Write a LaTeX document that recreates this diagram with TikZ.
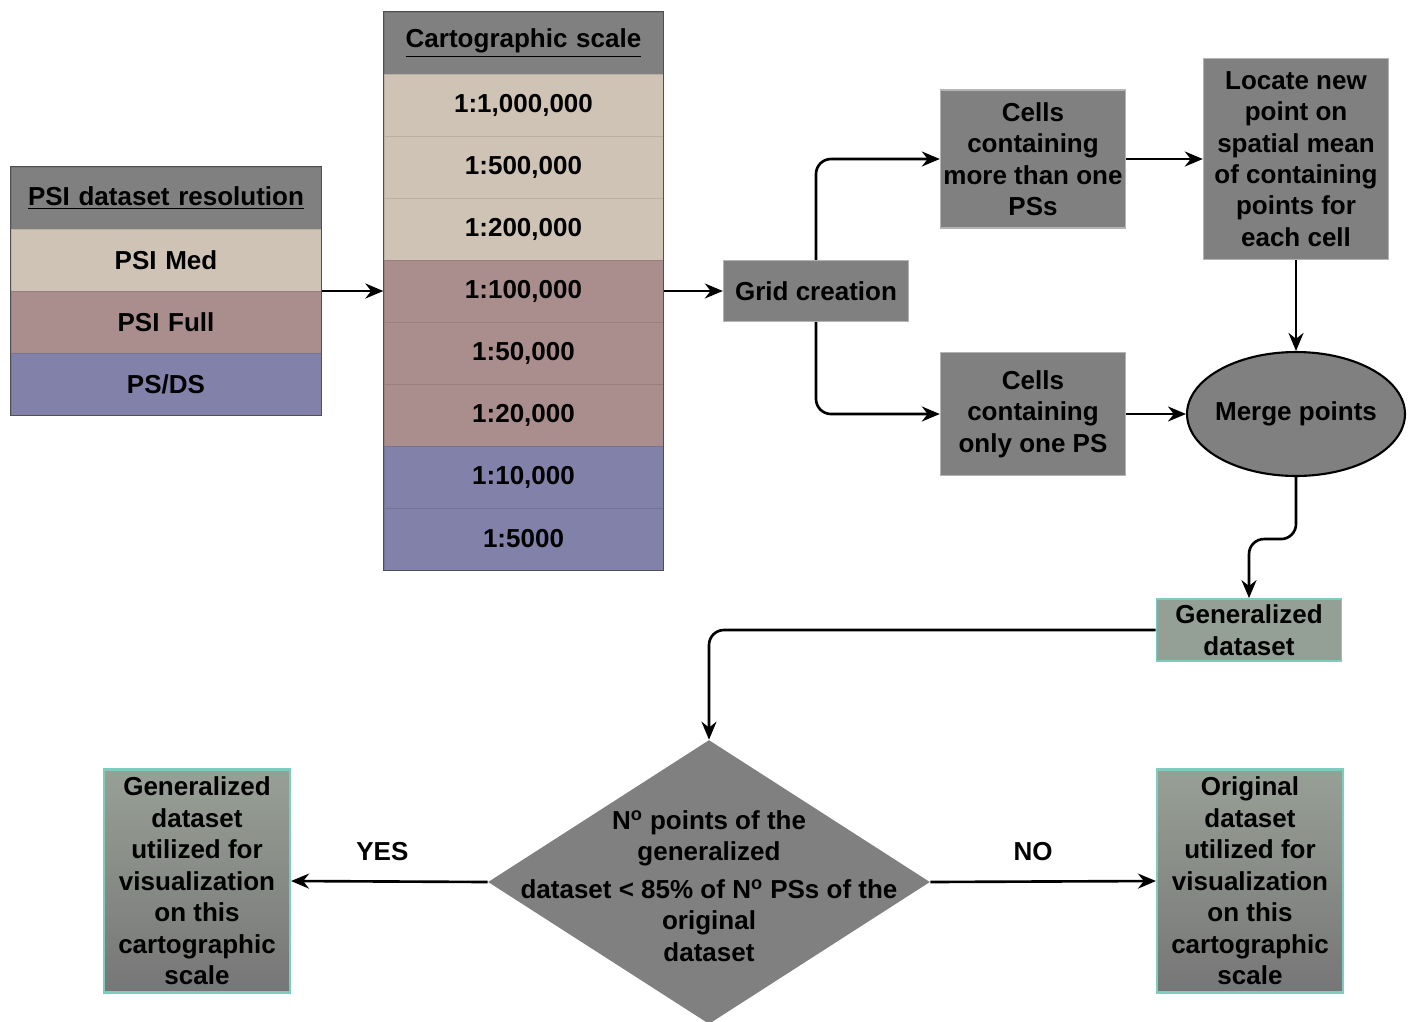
\documentclass[tikz,border=0pt]{standalone}
\usepackage{fontspec}
\setmainfont{Liberation Sans}
\usepackage{tikz}
\usetikzlibrary{matrix,positioning,arrows.meta,shapes.geometric,calc}

\definecolor{hdgray}{RGB}{128,128,128}
\definecolor{beige}{RGB}{206,195,181}
\definecolor{mauve}{RGB}{170,142,141}
\definecolor{lilac}{RGB}{129,129,170}
\definecolor{boxgray}{RGB}{128,128,128}
\definecolor{boxrim}{RGB}{180,180,180}
\definecolor{sage}{RGB}{148,160,150}
\definecolor{tealrim}{RGB}{125,205,190}
\definecolor{shadetop}{RGB}{152,160,150}
\definecolor{shadebot}{RGB}{118,118,118}
\definecolor{tablerim}{RGB}{80,80,80}

\tikzset{
  txt/.style={font=\bfseries\fontsize{14.8}{17.9}\selectfont, align=center, inner sep=0pt},
  cellfill/.style={fill=#1, draw=#1!90!black, line width=0.4pt},
  procbox/.style={txt, fill=boxgray, draw=boxrim, line width=0.8pt, minimum width=3.7cm},
  resbox/.style={txt, top color=shadetop, bottom color=shadebot, draw=tealrim, line width=1.2pt,
    minimum width=3.72cm, minimum height=4.46cm},
  flow/.style={-{Stealth[length=0.36cm,width=0.3cm]}, line width=1.5pt},
}

\begin{document}
\begin{tikzpicture}[x=0.02cm, y=-0.02cm]
    \useasboundingbox (0,0) rectangle (1415,1021);

    % resolution table
    \matrix (res) [matrix of nodes, inner sep=0pt, row sep=-0.4pt,
      nodes={txt, text width=6.2cm, minimum height=1.24cm},
      row 1/.style={nodes={cellfill=hdgray}},
      row 2/.style={nodes={cellfill=beige}},
      row 3/.style={nodes={cellfill=mauve}},
      row 4/.style={nodes={cellfill=lilac}}] at (166,291)
    {
      \underline{PSI dataset resolution} \\
      PSI Med \\
      PSI Full \\
      PS/DS \\
    };
    \draw[tablerim, line width=0.6pt] (res.north west) rectangle (res.south east);

    % scale table
    \matrix (carto) [matrix of nodes, inner sep=0pt, row sep=-0.4pt,
      nodes={txt, text width=5.58cm, minimum height=1.24cm},
      row 1/.style={nodes={cellfill=hdgray}},
      row 2/.style={nodes={cellfill=beige}},
      row 3/.style={nodes={cellfill=beige}},
      row 4/.style={nodes={cellfill=beige}},
      row 5/.style={nodes={cellfill=mauve}},
      row 6/.style={nodes={cellfill=mauve}},
      row 7/.style={nodes={cellfill=mauve}},
      row 8/.style={nodes={cellfill=lilac}},
      row 9/.style={nodes={cellfill=lilac}}] at (523.5,291)
    {
      \underline{Cartographic scale} \\
      1:1,000,000 \\
      1:500,000 \\
      1:200,000 \\
      1:100,000 \\
      1:50,000 \\
      1:20,000 \\
      1:10,000 \\
      1:5000 \\
    };
    \draw[tablerim, line width=0.6pt] (carto.north west) rectangle (carto.south east);

    % processing steps
    \node[procbox, minimum height=1.22cm] (grid) at (816,291) {Grid creation};
    \node[procbox, minimum height=2.76cm] (multi) at (1033,159) {Cells\\containing\\more than one\\PSs};
    \node[procbox, minimum height=2.46cm] (single) at (1033,414) {Cells\\containing\\only one PS};
    \node[procbox, minimum height=4.02cm] (locate) at (1296,159) {Locate new\\point on\\spatial mean\\of containing\\points for\\each cell};
    \node[txt, ellipse, fill=boxgray, draw=black, line width=1.2pt, inner xsep=-3.5pt,
      minimum width=4.36cm, minimum height=2.48cm] (merge) at (1296,414) {Merge points};
    \node[txt, fill=sage, draw=tealrim, line width=1pt,
      minimum width=3.7cm, minimum height=1.24cm] (gen) at (1249,630) {Generalized\\dataset};

    % decision
    \node[diamond, fill=boxgray, inner sep=0pt, minimum width=8.84cm, minimum height=5.68cm] (decide) at (709,882) {};
    \node[txt] (decidetext) at ($(decide.center)+(0,4)$) {N\textsuperscript{o} points of the\\generalized\\[3.5pt]dataset < 85\% of N\textsuperscript{o} PSs of the\\original\\dataset};

    \node[resbox] (keepgen) at (197,881) {Generalized\\dataset\\utilized for\\visualization\\on this\\cartographic\\scale};
    \node[resbox] (keeporig) at (1250,881) {Original\\dataset\\utilized for\\visualization\\on this\\cartographic\\scale};

    % connectors
    \draw[flow] (res.east) -- (carto.west);
    \draw[flow] (carto.east) -- (grid.west);
    \draw[flow, rounded corners=0.3cm] (grid.north) |- (multi.west);
    \draw[flow, rounded corners=0.3cm] (grid.south) |- (single.west);
    \draw[flow] (multi) -- (locate);
    \draw[flow] (single) -- (merge);
    \draw[flow] (locate) -- (merge);
    \draw[flow, rounded corners=0.3cm] (merge.south) -- ++(0,62) -| (gen.north);
    \draw[flow, rounded corners=0.3cm] (gen.west) -| (decide.north);
    \draw[flow] (decide.west) -- node[txt, above=0.38cm, xshift=-0.14cm] (yes) {YES} (keepgen.east);
    \draw[flow] (decide.east) -- node[txt, above=0.38cm, xshift=-0.2cm] (no) {NO} (keeporig.west);
\end{tikzpicture}
\end{document}
